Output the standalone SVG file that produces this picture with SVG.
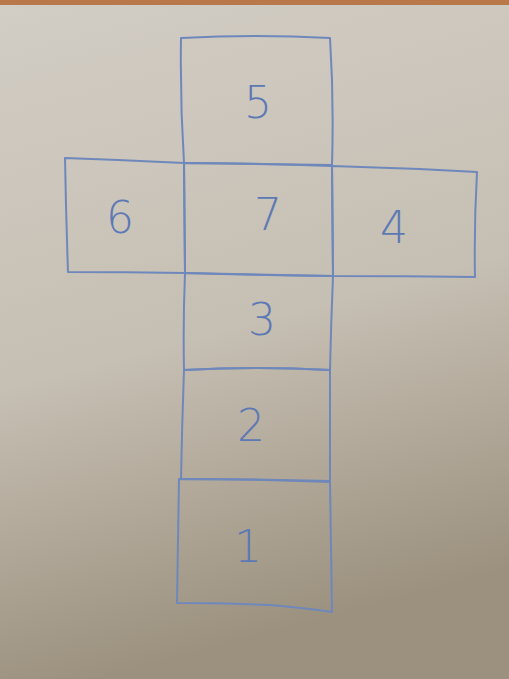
<svg xmlns="http://www.w3.org/2000/svg" width="509" height="679" viewBox="0 0 509 679">
<defs>
<linearGradient id="paper" x1="0" y1="0" x2="0.2" y2="1">
<stop offset="0" stop-color="#d2cdc5"/>
<stop offset="0.55" stop-color="#c6bfb3"/>
<stop offset="1" stop-color="#9c917f"/>
</linearGradient>
<style>
.face{fill:none;stroke:#6f88bb;stroke-width:2;stroke-linejoin:round;stroke-linecap:round}
.num{font-family:"DejaVu Sans","Liberation Sans",sans-serif;font-size:44px;fill:#5d79b5;text-anchor:middle;font-weight:300}
</style>
</defs>
<rect width="509" height="679" fill="url(#paper)"/>
<rect width="509" height="5" fill="#b8784a"/>
<g id="face5">
<path class="face" d="M181 38 Q255 34 330 38 Q334 100 332 165 L184 163 Q180 100 181 38 Z"/>
<text class="num" x="258" y="118">5</text>
</g>
<g id="face6">
<path class="face" d="M65 158 Q125 160 184 163 L185 273 Q125 272 68 272 Q66 215 65 158 Z"/>
<text class="num" x="120" y="233">6</text>
</g>
<g id="face7">
<path class="face" d="M184 163 Q258 163 332 166 L333 276 Q258 275 185 273 Z"/>
<text class="num" x="268" y="230">7</text>
</g>
<g id="face4">
<path class="face" d="M332 166 Q405 168 477 172 Q474 225 475 277 Q404 276 333 276 Z"/>
<text class="num" x="394" y="243">4</text>
</g>
<g id="face3">
<path class="face" d="M185 273 L333 276 Q331 323 330 370 Q257 366 184 370 Q183 322 185 273 Z"/>
<text class="num" x="262" y="335">3</text>
</g>
<g id="face2">
<path class="face" d="M184 370 Q257 366 330 370 L330 481 Q255 479 181 479 Q182 425 184 370 Z"/>
<text class="num" x="251" y="441">2</text>
</g>
<g id="face1">
<path class="face" d="M179 479 Q255 479 330 482 Q331 547 332 612 Q305 608 270 605 Q220 603 177 603 Q178 541 179 479 Z"/>
<text class="num" x="248" y="562">1</text>
</g>
</svg>
